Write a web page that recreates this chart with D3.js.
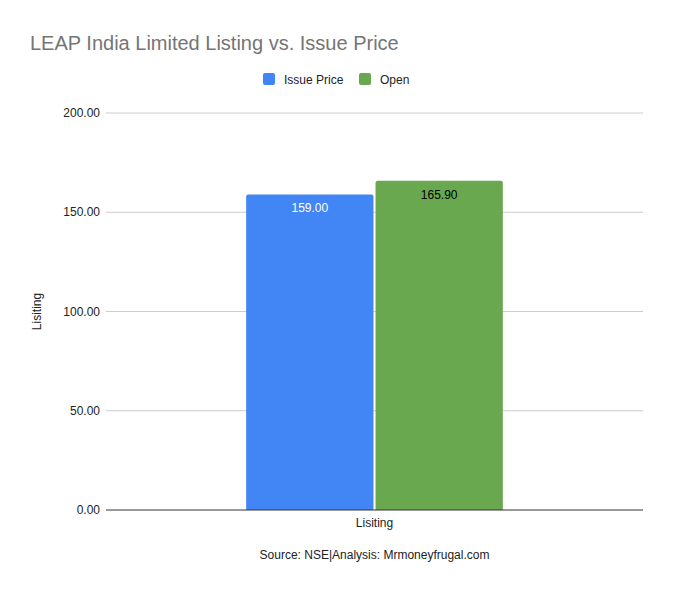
<!DOCTYPE html>
<meta charset="utf-8">
<head>
<title>LEAP India Limited Listing vs. Issue Price</title>
<script src="https://d3js.org/d3.v7.min.js"></script>
<style>
  body { margin: 0; background: #fff; font-family: Arial, "Liberation Sans", sans-serif; }
</style>
</head>
<body>
<script>
// data
const categories = ['Lisiting'];
const seriesNames = ['Issue Price', 'Open'];
const seriesColors = ['#4285f4', '#6aa84f'];
const seriesValues = [159.00, 165.90];
const labelColors = ['#ffffff', '#000000'];
const yTicks = [0, 50, 100, 150, 200];

const width = 673, height = 592;
const margin = {top: 113, right: 30, bottom: 82, left: 106};
const fmt = d3.format('.2f');

const svg = d3.select('body').append('svg')
  .attr('width', width)
  .attr('height', height);

svg.append('rect').attr('width', width).attr('height', height).attr('fill', '#fff');

// title
svg.append('text')
  .attr('x', 30).attr('y', 50)
  .attr('font-size', 20)
  .attr('fill', '#757575')
  .text('LEAP India Limited Listing vs. Issue Price');

const x = d3.scaleBand()
  .domain(categories)
  .range([margin.left, width - margin.right]);

const xInner = d3.scaleBand()
  .domain(seriesNames)
  .range([0, x.bandwidth() * 0.478])
  .paddingInner(0.016);

const y = d3.scaleLinear()
  .domain([0, 200])
  .range([height - margin.bottom, margin.top]);

// gridlines + tick labels
const grid = svg.append('g');
yTicks.forEach(t => {
  if (t !== 0) {
    grid.append('line')
      .attr('x1', margin.left).attr('x2', width - margin.right)
      .attr('y1', y(t)).attr('y2', y(t))
      .attr('stroke', '#cccccc').attr('stroke-width', 1);
  }
  grid.append('text')
    .attr('x', margin.left - 6).attr('y', y(t) + 4)
    .attr('text-anchor', 'end')
    .attr('font-size', 12).attr('fill', '#222')
    .text(fmt(t));
});

// bars
const groupOffset = (x.bandwidth() - xInner.range()[1]) / 2;
const bars = svg.append('g');
categories.forEach(c => {
  seriesNames.forEach((s, i) => {
    const bx = x(c) + groupOffset + xInner(s);
    const bw = xInner.bandwidth();
    const top = y(seriesValues[i]);
    const base = y(0);
    const r = 2;
    bars.append('path')
      .attr('d', `M${bx},${base}V${top + r}Q${bx},${top} ${bx + r},${top}H${bx + bw - r}Q${bx + bw},${top} ${bx + bw},${top + r}V${base}Z`)
      .attr('fill', seriesColors[i]);
    bars.append('text')
      .attr('x', bx + bw / 2).attr('y', top + 18)
      .attr('text-anchor', 'middle')
      .attr('font-size', 12)
      .attr('fill', labelColors[i])
      .text(fmt(seriesValues[i]));
  });
});

// baseline
svg.append('line')
  .attr('x1', margin.left).attr('x2', width - margin.right)
  .attr('y1', y(0)).attr('y2', y(0))
  .attr('stroke', '#333333').attr('stroke-width', 1);

// x category labels
categories.forEach(c => {
  svg.append('text')
    .attr('x', x(c) + x.bandwidth() / 2).attr('y', y(0) + 17)
    .attr('text-anchor', 'middle')
    .attr('font-size', 12).attr('fill', '#222')
    .text(c);
});

// y axis title
svg.append('text')
  .attr('transform', `translate(41,${(y(0) + y(200)) / 2}) rotate(-90)`)
  .attr('text-anchor', 'middle')
  .attr('font-size', 12).attr('fill', '#222')
  .text('Lisiting');

// x axis title (source)
svg.append('text')
  .attr('x', x(categories[0]) + x.bandwidth() / 2).attr('y', 559)
  .attr('text-anchor', 'middle')
  .attr('font-size', 12).attr('fill', '#222')
  .text('Source: NSE|Analysis: Mrmoneyfrugal.com');

// legend
const legend = svg.append('g');
const legendX = [263, 359];
seriesNames.forEach((s, i) => {
  legend.append('rect')
    .attr('x', legendX[i]).attr('y', 73)
    .attr('width', 12).attr('height', 12)
    .attr('rx', 2)
    .attr('fill', seriesColors[i]);
  legend.append('text')
    .attr('x', legendX[i] + 21).attr('y', 83.5)
    .attr('font-size', 12).attr('fill', '#222')
    .text(s);
});
</script>
</body>
</html>
